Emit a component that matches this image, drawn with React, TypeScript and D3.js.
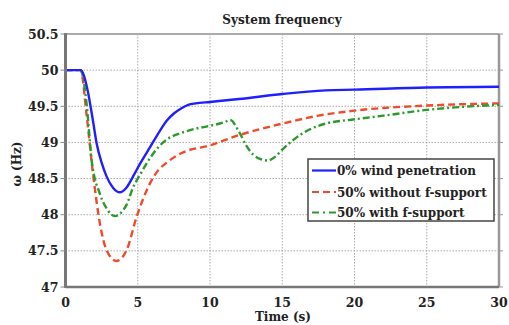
import React, { useRef, useEffect } from "react";
import * as d3 from "d3";

// [time (s), frequency (Hz)]
const noWind: [number, number][] = [
  [0, 50], [1.05, 50], [1.5, 49.75], [1.9, 49.3], [2.17, 48.97], [2.5, 48.72], [2.84, 48.53],
  [3.3, 48.37], [3.76, 48.31], [4.2, 48.37], [4.68, 48.53], [5.2, 48.72], [5.84, 48.93],
  [6.5, 49.15], [7, 49.3], [7.5, 49.4], [8, 49.47], [8.5, 49.52], [9, 49.54],
  [10, 49.56], [12, 49.6], [15, 49.67], [18, 49.72], [20, 49.73], [25, 49.76], [30, 49.77],
];

const withoutSupport: [number, number][] = [
  [0, 50], [1.05, 50], [1.45, 49.4], [1.88, 48.61], [2.38, 47.88], [2.84, 47.51], [3.53, 47.36],
  [4.23, 47.51], [4.92, 47.97], [5.84, 48.43], [6.4, 48.61], [7, 48.72],
  [8, 48.85], [10, 48.96], [12, 49.1], [15, 49.26], [17.5, 49.37], [20, 49.44], [25, 49.51],
  [30, 49.54],
];

const withSupport: [number, number][] = [
  [0, 50], [1.05, 50], [1.45, 49.55], [1.81, 48.75], [2.38, 48.29], [2.9, 48.07], [3.42, 47.98],
  [3.9, 48.04], [4.23, 48.14], [4.68, 48.38], [5.15, 48.55], [5.84, 48.78], [6.5, 48.95], [7, 49.04],
  [8, 49.13], [9, 49.19], [10, 49.23], [11, 49.28], [11.4, 49.31], [12, 49.15], [12.5, 48.96],
  [13, 48.83], [13.5, 48.77], [14, 48.75], [14.5, 48.8], [15, 48.9], [16, 49.07], [17, 49.19],
  [18, 49.26], [20, 49.32], [22, 49.37], [25, 49.45], [30, 49.52],
];

const xTicks = [0, 5, 10, 15, 20, 25, 30];
const yTicks = [47, 47.5, 48, 48.5, 49, 49.5, 50, 50.5];
const legendLabels = ["0% wind penetration", "50% without f-support", "50% with f-support"];

const App = () => {
  const svgRef = useRef<SVGSVGElement>(null);

  useEffect(() => {
    const svg = d3.select(svgRef.current);
    svg.selectAll("*").remove();

    const W = 509, H = 325;
    const left = 65.5, right = 499, top = 34, bottom = 287;
    const font = "'DejaVu Serif', serif";
    const ink = "#222";

    const x = d3.scaleLinear().domain([0, 30]).range([left, right]);
    const y = d3.scaleLinear().domain([47, 50.5]).range([bottom, top]);

    svg.attr("width", W).attr("height", H).style("background", "#fff");

    // grid
    const g = svg.append("g");
    g.selectAll("line.gx")
      .data(xTicks.slice(1, -1))
      .enter()
      .append("line")
      .attr("x1", (d) => x(d)).attr("x2", (d) => x(d))
      .attr("y1", top).attr("y2", bottom)
      .attr("stroke", "#aaa").attr("stroke-width", 1).attr("stroke-dasharray", "1.5,1.5");
    g.selectAll("line.gy")
      .data(yTicks.slice(1, -1))
      .enter()
      .append("line")
      .attr("x1", left).attr("x2", right)
      .attr("y1", (d) => y(d)).attr("y2", (d) => y(d))
      .attr("stroke", "#aaa").attr("stroke-width", 1).attr("stroke-dasharray", "1.5,1.5");

    // frame
    svg.append("line").attr("x1", left).attr("x2", right).attr("y1", top).attr("y2", top)
      .attr("stroke", "#aaa").attr("stroke-width", 2);
    svg.append("line").attr("x1", right).attr("x2", right).attr("y1", top).attr("y2", bottom)
      .attr("stroke", "#999").attr("stroke-width", 2.5);

    // series
    const line = d3.line<[number, number]>()
      .x((d) => x(d[0]))
      .y((d) => y(d[1]))
      .curve(d3.curveMonotoneX);

    const series = [
      { data: noWind, color: "#1f1fff", dash: null },
      { data: withoutSupport, color: "#f04a2a", dash: "7,4" },
      { data: withSupport, color: "#2a9a2a", dash: "7,3,2,3" },
    ];

    [series[1], series[2], series[0]].forEach((s) => {
      const p = svg.append("path")
        .attr("d", line(s.data))
        .attr("fill", "none")
        .attr("stroke", s.color)
        .attr("stroke-width", 2.4);
      if (s.dash) p.attr("stroke-dasharray", s.dash);
    });

    // axes lines
    svg.append("line").attr("x1", left).attr("x2", left).attr("y1", top - 1).attr("y2", bottom + 1)
      .attr("stroke", "#777").attr("stroke-width", 3);
    svg.append("line").attr("x1", left).attr("x2", right).attr("y1", bottom).attr("y2", bottom)
      .attr("stroke", "#777").attr("stroke-width", 2.5);

    // tick marks
    svg.selectAll("line.ty").data(yTicks).enter().append("line")
      .attr("x1", left - 5).attr("x2", left).attr("y1", (d) => y(d)).attr("y2", (d) => y(d))
      .attr("stroke", "#888").attr("stroke-width", 1);
    svg.selectAll("line.tyr").data(yTicks).enter().append("line")
      .attr("x1", right).attr("x2", right + 4).attr("y1", (d) => y(d)).attr("y2", (d) => y(d))
      .attr("stroke", "#999").attr("stroke-width", 1);

    // tick labels
    svg.selectAll("text.yl").data(yTicks).enter().append("text")
      .attr("x", left - 7).attr("y", (d) => y(d) + 4.5)
      .attr("text-anchor", "end").attr("font-family", font).attr("font-weight", "bold")
      .attr("font-size", 12.5).attr("fill", ink)
      .text((d) => d3.format("")(d));
    svg.selectAll("text.xl").data(xTicks).enter().append("text")
      .attr("x", (d) => x(d)).attr("y", bottom + 20)
      .attr("text-anchor", "middle").attr("font-family", font).attr("font-weight", "bold")
      .attr("font-size", 12.5).attr("fill", ink)
      .text((d) => String(d));

    // titles
    svg.append("text").attr("x", 282).attr("y", 24).attr("text-anchor", "middle")
      .attr("font-family", font).attr("font-weight", "bold").attr("font-size", 12).attr("fill", ink)
      .text("System frequency");
    svg.append("text").attr("x", 283).attr("y", 321).attr("text-anchor", "middle")
      .attr("font-family", font).attr("font-weight", "bold").attr("font-size", 12).attr("fill", ink)
      .text("Time (s)");
    svg.append("text").attr("transform", "translate(21,164) rotate(-90)").attr("text-anchor", "middle")
      .attr("font-family", font).attr("font-weight", "bold").attr("font-size", 12).attr("fill", ink)
      .text("ω (Hz)");

    // legend
    const lg = svg.append("g");
    lg.append("rect").attr("x", 308).attr("y", 159).attr("width", 186).attr("height", 62)
      .attr("fill", "#fff").attr("stroke", "#444").attr("stroke-width", 1.5);
    const rows = [170.5, 192, 212.5];
    series.forEach((s, i) => {
      const l = lg.append("line").attr("x1", 312).attr("x2", 336)
        .attr("y1", rows[i]).attr("y2", rows[i])
        .attr("stroke", s.color).attr("stroke-width", 2.2);
      if (s.dash) l.attr("stroke-dasharray", i === 1 ? "7,4" : "7,4,2,4");
      lg.append("text").attr("x", 337).attr("y", rows[i] + 4.5)
        .attr("font-family", font).attr("font-weight", "bold").attr("font-size", 12).attr("fill", ink)
        .text(legendLabels[i]);
    });
  }, []);

  return <svg ref={svgRef} style={{ position: "absolute", left: 0, top: 0 }}></svg>;
};

export default App;
